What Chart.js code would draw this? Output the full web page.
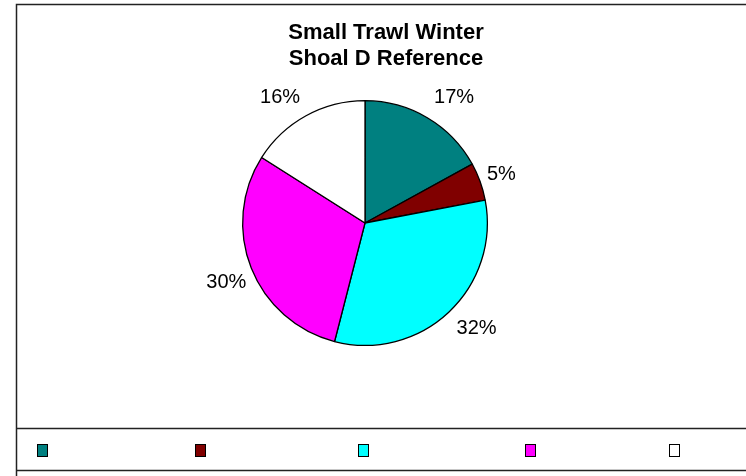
<!DOCTYPE html>
<html>
<head>
<meta charset="utf-8">
<script src="https://cdn.jsdelivr.net/npm/chart.js@4.4.0/dist/chart.umd.min.js"></script>
<style>
  html, body { margin: 0; padding: 0; background: #fff; }
  #wrap { width: 746px; height: 476px; position: relative; }
</style>
</head>
<body>
<div id="wrap"><canvas id="c" width="746" height="476"></canvas></div>
<script>
// chart data
const titleLines = ['Small Trawl Winter', 'Shoal D Reference'];
const categories = ['', '', '', '', ''];
const shares = [17, 5, 32, 30, 16];
const sliceColors = ['#008080', '#800000', '#00FFFF', '#FF00FF', '#FFFFFF'];

// label placement tweaks (px) relative to the radial spot, and legend square x
const labelNudge = [[12, 5], [-6, 3], [8, -5], [2, 4], [-12, 7]];
const legendX = [42, 200, 363, 530, 674];

// frame, title, percent labels and legend row
const framePlugin = {
    id: 'frame',
    beforeDraw(chart) {
        const ctx = chart.ctx;
        ctx.save();
        ctx.fillStyle = '#fff';
        ctx.fillRect(0, 0, chart.width, chart.height);
        ctx.strokeStyle = '#222';
        ctx.lineWidth = 1.5;
        ctx.beginPath();
        ctx.moveTo(16.5, chart.height + 2);
        ctx.lineTo(16.5, 4.5);
        ctx.lineTo(chart.width + 2, 4.5);
        ctx.stroke();
        // legend box
        ctx.beginPath();
        ctx.moveTo(16.5, 428.5);
        ctx.lineTo(chart.width + 2, 428.5);
        ctx.moveTo(16.5, 470.5);
        ctx.lineTo(chart.width + 2, 470.5);
        ctx.stroke();
        ctx.restore();
    },
    afterDraw(chart) {
        const ctx = chart.ctx;
        ctx.save();
        ctx.fillStyle = '#000';
        ctx.textAlign = 'center';
        ctx.textBaseline = 'middle';
        ctx.font = 'bold 22px "Liberation Sans", Arial, sans-serif';
        ctx.fillText(titleLines[0], 386, 33);
        ctx.fillText(titleLines[1], 386, 59);

        // percent labels outside slices
        ctx.font = '20px "Liberation Sans", Arial, sans-serif';
        const meta = chart.getDatasetMeta(0);
        const total = shares.reduce((a, b) => a + b, 0);
        meta.data.forEach((arc, i) => {
            const mid = (arc.startAngle + arc.endAngle) / 2;
            const r = arc.outerRadius + 29;
            const x = arc.x + Math.cos(mid) * r + labelNudge[i][0];
            const y = arc.y + Math.sin(mid) * r + labelNudge[i][1];
            ctx.fillText(Math.round(shares[i] / total * 100) + '%', x, y);
        });

        // legend squares (labels are blank)
        ctx.lineWidth = 1;
        ctx.strokeStyle = '#000';
        legendX.forEach((x, i) => {
            ctx.fillStyle = sliceColors[i];
            ctx.fillRect(x - 5, 444, 10, 12);
            ctx.strokeRect(x - 5 + 0.5, 444.5, 10, 12);
        });
        ctx.restore();
    }
};

new Chart(document.getElementById('c'), {
    type: 'pie',
    data: {
        labels: categories,
        datasets: [{
            data: shares,
            backgroundColor: sliceColors,
            borderColor: '#000',
            borderWidth: 1.3
        }]
    },
    options: {
        responsive: false,
        animation: false,
        events: [],
        layout: { padding: { left: 242, right: 258, top: 99, bottom: 129 } },
        plugins: {
            legend: { display: false },
            title: { display: false },
            tooltip: { enabled: false }
        }
    },
    plugins: [framePlugin]
});
</script>
</body>
</html>
